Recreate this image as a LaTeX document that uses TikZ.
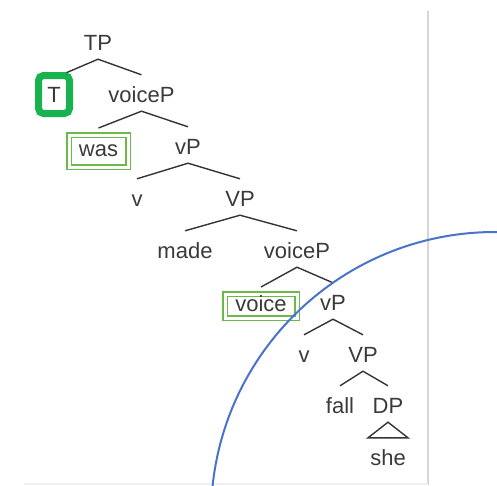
\documentclass[tikz,border=0pt]{standalone}
\usepackage{fontspec}
\newfontfamily\treefont{Liberation Sans}
\usetikzlibrary{backgrounds}
\definecolor{textgray}{RGB}{58,58,58}
\definecolor{linegray}{RGB}{52,52,52}
\definecolor{headgreen}{RGB}{24,178,78}
\definecolor{boxgreen}{RGB}{108,184,72}
\definecolor{arcblue}{RGB}{72,114,204}
\definecolor{rulegray}{RGB}{214,214,214}
\definecolor{edgegray}{RGB}{240,240,240}
\tikzset{
	word/.style={font=\treefont\fontsize{22pt}{26pt}\selectfont, text=textgray, text height=19pt, text depth=1pt, inner xsep=2pt, inner ysep=8pt, anchor=base},
	headbox/.style={font=\treefont\fontsize{22pt}{26pt}\selectfont, text=textgray, text height=16pt, text depth=1pt, draw=headgreen, line width=7pt, rounded corners=5pt, fill=white, minimum width=31pt, minimum height=38pt, inner sep=0pt},
	wordbox/.style={font=\treefont\fontsize{22pt}{26pt}\selectfont, text=textgray, text height=16pt, text depth=5pt, inner sep=1pt, draw=boxgreen, line width=1.6pt, double=white, double distance=3pt, outer sep=7pt},
	branch/.style={draw=linegray, line width=1.4pt},
}

\begin{document}
\begin{tikzpicture}[x=1pt,y=-1pt]
			%%%%% START %%%%%
			
			\useasboundingbox (0,0) rectangle (497,485);
			
			\draw[line width=2pt, color=rulegray] (428,11) -- (428,485);
			\draw[line width=1.5pt, color=edgegray] (24,484) -- (428,484);
			
			\node[word] (tp) at (98,50) {TP};
			\node[headbox] (t) at (54,94.5) {T};
			\node[word] (voicep) at (141.5,102) {voiceP};
			\node[wordbox, minimum width=59pt, minimum height=32pt] (was) at (98.5,151) {was};
			\node[word] (vp) at (188,154) {vP};
			\node[word] (v) at (137,206) {v};
			\node[word] (bigvp) at (240,206) {VP};
			\node[word] (made) at (185,258) {made};
			\node[word] (voicep2) at (297,258) {voiceP};
			\node[wordbox, minimum width=72pt, minimum height=24pt] (voice) at (261,306) {voice};
			\node[word] (vp2) at (333,310) {vP};
			\node[word] (v2) at (304,362) {v};
			\node[word] (bigvp2) at (363,362) {VP};
			\node[word] (fall) at (340,413) {fall};
			\node[word] (dp) at (388,413) {DP};
			\node[word] (she) at (388,465) {she};
			
			\begin{pgfonlayer}{background}
				\draw[branch] ([yshift=-6pt]t.north) -- (tp.south) -- (voicep.north);
				\draw[branch] (was.north) -- (voicep.south) -- (vp.north);
				\draw[branch] (v.north) -- (vp.south) -- (bigvp.north);
				\draw[branch] (made.north) -- (bigvp.south) -- (voicep2.north);
				\draw[branch] (voice.north) -- (voicep2.south) -- (vp2.north);
				\draw[branch] (v2.north) -- (vp2.south) -- (bigvp2.north);
				\draw[branch] (fall.north) -- (bigvp2.south) -- (dp.north);
				\draw[branch] (dp.south) -- ([xshift=-20pt]she.north) -- ([xshift=20pt]she.north) -- cycle;
			\end{pgfonlayer}
			
			\begin{scope}
				\clip (0,0) rectangle (497,485);
				\draw[line width=2pt, color=arcblue] (495,516) circle (284pt);
			\end{scope}
			
			%%%%% END %%%%%
\end{tikzpicture}
\end{document}
